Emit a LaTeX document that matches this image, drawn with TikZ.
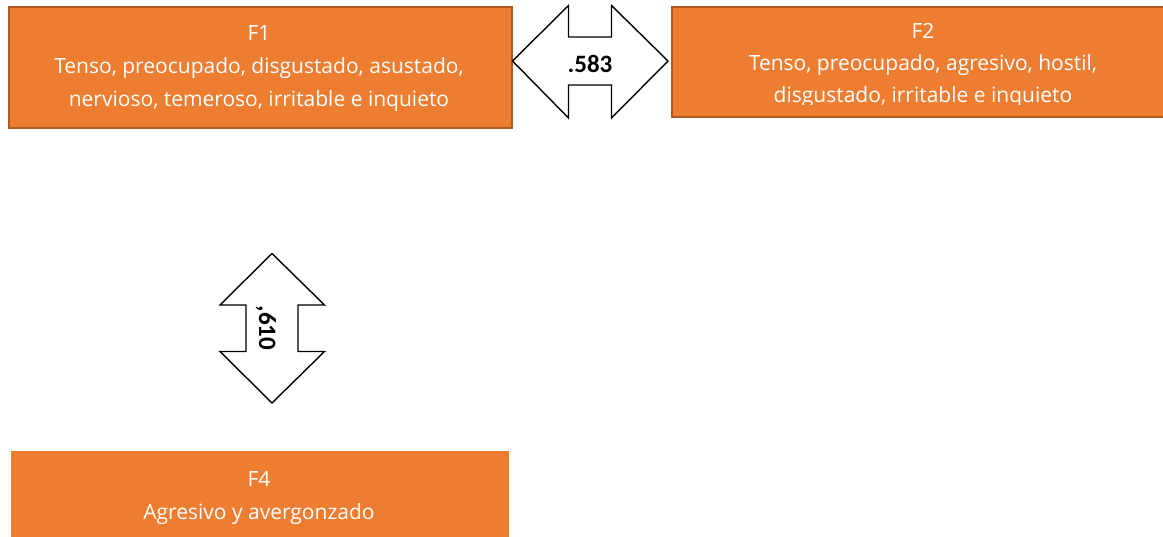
\documentclass[tikz,border=0pt]{standalone}
\usepackage{fontspec}
\setmainfont{Carlito}
\newfontfamily\boxfont{Open Sans}
\definecolor{boxfill}{HTML}{ED7D31}
\definecolor{boxline}{HTML}{AE5A21}
\begin{document}
\begin{tikzpicture}[x=1pt,y=-1pt,
  factor/.style={fill=boxfill,draw=boxline,line width=2.2pt,inner sep=0pt,anchor=north west},
  factortext/.style={text=white,align=center,font=\boxfont\fontsize{21}{33}\selectfont,inner sep=0pt},
  arrowshape/.style={fill=white,draw=black,line width=1.4pt,line join=miter},
  corr/.style={font=\fontsize{25}{28}\selectfont\bfseries,inner sep=0pt}]
\useasboundingbox (0,0) rectangle (1163,536);
% boxes
\node[factor,minimum width=503pt,minimum height=121pt] (f1) at (7.5,5.5) {};
\node[factortext] (f1t) at (259,68.5) {F1\\Tenso, preocupado, disgustado, asustado,\\nervioso, temeroso, irritable e inquieto};
\node[factor,minimum width=500pt,minimum height=110pt] (f2) at (670.5,5.5) {};
\begin{scope}
  \clip (670,5) rectangle (1163,104);
  \node[factortext,font=\boxfont\fontsize{21}{32}\selectfont] (f2t) at (923,65) {F2\\Tenso, preocupado, agresivo, hostil,\\disgustado, irritable e inquieto};
\end{scope}
\node[factor,draw=none,minimum width=498pt,minimum height=92pt] (f4) at (10,450) {};
\node[factortext] (f4t) at (259,498) {F4\\Agresivo y avergonzado};
% horizontal double arrow
\coordinate (h) at (590,61);
\draw[arrowshape] (512.5,61) -- (568.5,5.5) -- (568.5,37) -- (611.5,37) -- (611.5,5.5) -- (668,61)
  -- (611.5,118) -- (611.5,85) -- (568.5,85) -- (568.5,118) -- cycle;
\node[corr] (c12) at (590,64) {.583};
% vertical double arrow
\draw[arrowshape] (272,253.5) -- (324.5,305) -- (298,305) -- (298,351.5) -- (324.5,351.5) -- (272,403)
  -- (220,351.5) -- (246,351.5) -- (246,305) -- (220,305) -- cycle;
\node[corr,rotate=-90] (c14) at (266,328) {,610};
\end{tikzpicture}
\end{document}
